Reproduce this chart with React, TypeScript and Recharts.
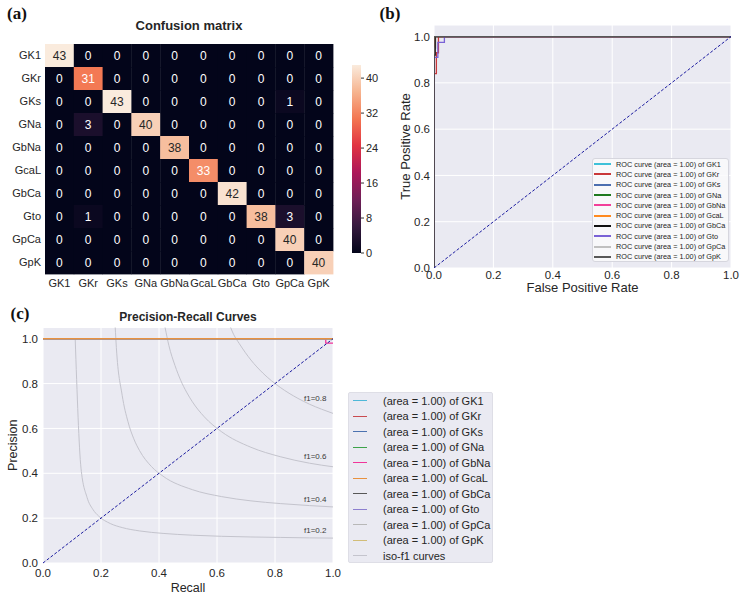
import React from 'react';
import {
  ScatterChart, Scatter, BarChart, Bar, LineChart, Line, XAxis, YAxis,
  CartesianGrid, Legend, ReferenceDot,
} from 'recharts';

const classes = ['GK1', 'GKr', 'GKs', 'GNa', 'GbNa', 'GcaL', 'GbCa', 'Gto', 'GpCa', 'GpK'];

// rows = true class, columns = predicted class
const confusion = [
  [43, 0, 0, 0, 0, 0, 0, 0, 0, 0],
  [0, 31, 0, 0, 0, 0, 0, 0, 0, 0],
  [0, 0, 43, 0, 0, 0, 0, 0, 1, 0],
  [0, 3, 0, 40, 0, 0, 0, 0, 0, 0],
  [0, 0, 0, 0, 38, 0, 0, 0, 0, 0],
  [0, 0, 0, 0, 0, 33, 0, 0, 0, 0],
  [0, 0, 0, 0, 0, 0, 42, 0, 0, 0],
  [0, 1, 0, 0, 0, 0, 0, 38, 3, 0],
  [0, 0, 0, 0, 0, 0, 0, 0, 40, 0],
  [0, 0, 0, 0, 0, 0, 0, 0, 0, 40],
];
const colorbarTicks = [0, 8, 16, 24, 32, 40];
const colorbarMax = 43;

const rateTicks = [0, 0.2, 0.4, 0.6, 0.8, 1.0];
const areas = [1.0, 1.0, 1.0, 1.0, 1.0, 1.0, 1.0, 1.0, 1.0, 1.0];

// ROC curves as [fpr, tpr]
const rocGK1 = [[0, 0], [0, 1], [1, 1]];
const rocGKr = [[0, 0], [0, 0.84], [0.008, 0.84], [0.008, 0.93], [0.015, 0.93], [0.015, 1], [1, 1]];
const rocGKs = [[0, 0], [0, 1], [1, 1]];
const rocGNa = [[0, 0], [0, 1], [1, 1]];
const rocGbNa = [[0, 0], [0, 1], [1, 1]];
const rocGcaL = [[0, 0], [0, 1], [1, 1]];
const rocGbCa = [[0, 0], [0, 0.92], [0.004, 0.92], [0.004, 1], [1, 1]];
const rocGto = [[0, 0], [0, 0.91], [0.013, 0.91], [0.013, 0.975], [0.035, 0.975], [0.035, 1], [1, 1]];
const rocGpCa = [[0, 0], [0, 0.95], [0.006, 0.95], [0.006, 1], [1, 1]];
const rocGpK = [[0, 0], [0, 1], [1, 1]];
const chanceLine = [[0, 0], [1, 1]];

// precision-recall curves as [recall, precision]
const prGK1 = [[0, 1], [1, 1]];
const prGKr = [[0, 1], [1, 1]];
const prGKs = [[0, 1], [1, 1]];
const prGNa = [[0, 1], [1, 1]];
const prGbNa = [[0, 1], [0.975, 1], [0.975, 0.98], [1, 0.98]];
const prGcaL = [[0, 1], [1, 1]];
const prGbCa = [[0, 1], [1, 1]];
const prGto = [[0, 1], [1, 1]];
const prGpCa = [[0, 1], [1, 1]];
const prGpK = [[0, 1], [1, 1]];

// iso-f1 curves
const isoF02 = [[0.111, 1.0], [0.131, 0.423], [0.152, 0.292], [0.172, 0.239], [0.192, 0.209], [0.232, 0.176],
  [0.273, 0.158], [0.333, 0.143], [0.414, 0.132], [0.515, 0.124], [0.616, 0.119], [0.717, 0.116],
  [0.818, 0.114], [0.919, 0.112], [1.0, 0.111]];
const isoF04 = [[0.249, 1.05], [0.253, 0.96], [0.273, 0.748], [0.293, 0.63], [0.313, 0.554], [0.333, 0.501],
  [0.374, 0.43], [0.414, 0.387], [0.515, 0.327], [0.616, 0.296], [0.717, 0.277], [0.818, 0.265],
  [0.919, 0.256], [1.0, 0.25]];
const isoF06 = [[0.421, 1.05], [0.434, 0.97], [0.455, 0.881], [0.475, 0.814], [0.495, 0.762], [0.515, 0.719],
  [0.556, 0.652], [0.616, 0.585], [0.717, 0.516], [0.818, 0.474], [0.919, 0.445], [1.0, 0.429]];
const isoF08 = [[0.647, 1.05], [0.657, 1.02], [0.677, 0.978], [0.717, 0.905], [0.758, 0.847], [0.818, 0.783],
  [0.879, 0.734], [0.919, 0.708], [0.96, 0.686], [1.0, 0.667]];
const isoLabels = ['f1=0.2', 'f1=0.4', 'f1=0.6', 'f1=0.8'];
const isoLabelX = [0.9, 0.9, 0.9, 0.9];
const isoLabelY = [0.147, 0.285, 0.478, 0.735];

const rocCurves = [rocGK1, rocGKr, rocGKs, rocGNa, rocGbNa, rocGcaL, rocGbCa, rocGto, rocGpCa, rocGpK];
const prCurves = [prGK1, prGKr, prGKs, prGNa, prGbNa, prGcaL, prGbCa, prGto, prGpCa, prGpK];
const isoCurves = [isoF02, isoF04, isoF06, isoF08];

const rocColors = ['#3fc1d9', '#c9383a', '#4c6fb0', '#1f7a1f', '#f2409a', '#ff8a1f', '#111111', '#7a62d6', '#c0c0c0', '#585858'];
const prColors = ['#4fb8d8', '#c94b50', '#4c72b0', '#3da34a', '#f0359a', '#e8913f', '#575757', '#8c7fcf', '#b8b8b8', '#d2bd78'];
const isoColor = '#c4c4cd';
const ISO_NAME = 'iso-f1 curves';

const FONT = '"Liberation Sans", Arial, sans-serif';
const SERIF = '"Liberation Serif", "Times New Roman", serif';
const INK = '#262626';
const PANEL_BG = '#eaeaf2';

const rocketStops: [number, string][] = [
  [0, '#03051a'], [0.143, '#35193e'], [0.286, '#701f57'], [0.429, '#ad1759'],
  [0.571, '#e13342'], [0.714, '#f37651'], [0.857, '#f6b48f'], [1, '#faebdd'],
];

function hexRgb(h: string) {
  return [1, 3, 5].map((i) => parseInt(h.slice(i, i + 2), 16));
}

function rocket(t: number) {
  const v = Math.max(0, Math.min(1, t));
  for (let i = 1; i < rocketStops.length; i++) {
    const [p1, c1] = rocketStops[i];
    const [p0, c0] = rocketStops[i - 1];
    if (v <= p1) {
      const f = (v - p0) / (p1 - p0);
      const a = hexRgb(c0);
      const b = hexRgb(c1);
      return a.map((x, k) => Math.round(x + (b[k] - x) * f));
    }
  }
  return hexRgb(rocketStops[rocketStops.length - 1][1]);
}

function luminance([r, g, b]: number[]) {
  const lin = (c: number) => {
    const s = c / 255;
    return s <= 0.03928 ? s / 12.92 : Math.pow((s + 0.055) / 1.055, 2.4);
  };
  return 0.2126 * lin(r) + 0.7152 * lin(g) + 0.0722 * lin(b);
}

const toPoints = (pts: number[][]) => pts.map(([x, y]) => ({ x, y }));

// heatmap plot box (matches chart margins below)
const HEAT_W = 288;
const HEAT_H = 230;
const cellW = HEAT_W / classes.length;
const cellH = HEAT_H / classes.length;

const cells = confusion.flatMap((row, r) => row.map((value, c) => ({ col: c + 0.5, row: r + 0.5, value })));
const cellTicks = classes.map((_, i) => i + 0.5);

function HeatCell(props: any) {
  const { cx, cy, payload } = props;
  const rgb = rocket(payload.value / colorbarMax);
  return (
    <g>
      <rect x={cx - cellW / 2} y={cy - cellH / 2} width={cellW + 0.4} height={cellH + 0.4} fill={`rgb(${rgb.join(',')})`} />
      <text x={cx} y={cy} dy="0.36em" textAnchor="middle" fontSize={12} fontFamily={FONT}
        fill={luminance(rgb) > 0.408 ? INK : '#ffffff'}>
        {payload.value}
      </text>
    </g>
  );
}

const classOrder = (name: string) => {
  const i = classes.findIndex((c) => name.endsWith(`of ${c}`));
  return i < 0 ? 99 : i;
};

// keep only named series, one row per name, in class order
function legendItems(payload: any[] | undefined) {
  const seen = new Set<string>();
  return (payload ?? [])
    .filter((it) => it.type !== 'none' && typeof it.value === 'string' && it.value !== 'y')
    .filter((it) => (seen.has(it.value) ? false : (seen.add(it.value), true)))
    .sort((a, b) => classOrder(a.value) - classOrder(b.value));
}

function RocLegend({ payload }: any) {
  return (
    <div style={{
      width: 137, height: 104, boxSizing: 'border-box', background: 'rgba(250,250,252,0.85)',
      border: '1px solid #d6d6de', borderRadius: 3,
    }}>
      {legendItems(payload).map((it: any) => (
        <div key={it.value} style={{ display: 'flex', alignItems: 'center', height: 10.3 }}>
          <span style={{ display: 'inline-block', width: 17, borderTop: `2px solid ${it.color}`, marginLeft: 1, marginRight: 5 }} />
          <span style={{ fontSize: 7.3, color: INK, whiteSpace: 'nowrap', fontFamily: FONT }}>{it.value}</span>
        </div>
      ))}
    </div>
  );
}

function PrLegend({ payload }: any) {
  return (
    <div style={{
      width: 145, height: 171, boxSizing: 'border-box', background: PANEL_BG,
      border: '1px solid #dedee6', borderRadius: 2,
    }}>
      {legendItems(payload).map((it: any) => (
        <div key={it.value} style={{ display: 'flex', alignItems: 'center', height: 15.5 }}>
          <span style={{ display: 'inline-block', width: 14, borderTop: `1.5px solid ${it.color}`, marginLeft: 4, marginRight: 16 }} />
          <span style={{ fontSize: 11, color: INK, whiteSpace: 'nowrap', fontFamily: FONT }}>{it.value}</span>
        </div>
      ))}
    </div>
  );
}

const tickStyle = { fontSize: 11.5, fill: INK, fontFamily: FONT };
const labelStyle = { fontSize: 13, fill: INK, fontFamily: FONT };

function absText(left: number, top: number, width: number, text: string, style: React.CSSProperties) {
  return (
    <div style={{ position: 'absolute', left, top, width, textAlign: 'center', whiteSpace: 'nowrap', ...style }}>{text}</div>
  );
}

export default function App() {
  // draw the straight curves first so the stepped ones stay visible
  const rocDrawOrder = [0, 2, 3, 4, 5, 8, 1, 7, 6, 9];
  const prDrawOrder = [0, 1, 2, 3, 4, 6, 7, 8, 9, 5];

  return (
    <div style={{ position: 'absolute', left: 0, top: 0, width: 749, height: 597, background: '#fff', fontFamily: FONT }}>
      {absText(0, 4, 34, '(a)', { fontFamily: SERIF, fontWeight: 'bold', fontSize: 17, color: '#111', lineHeight: '20px' })}
      {absText(89, 17, 200, 'Confusion matrix', { fontWeight: 'bold', fontSize: 13, color: INK, lineHeight: '18px' })}

      <div style={{ position: 'absolute', left: 0, top: 0 }}>
        <ScatterChart width={340} height={300} margin={{ top: 44, right: 7, bottom: 0, left: 0 }}>
          <XAxis type="number" dataKey="col" domain={[0, 10]} ticks={cellTicks} interval={0}
            tickFormatter={(v) => classes[Math.floor(v)]} tick={{ ...tickStyle, fontSize: 11 }}
            tickLine={false} axisLine={false} tickSize={3} tickMargin={2} height={26} />
          <YAxis type="number" dataKey="row" domain={[0, 10]} reversed ticks={cellTicks} interval={0}
            tickFormatter={(v) => classes[Math.floor(v)]} tick={{ ...tickStyle, fontSize: 11 }}
            tickLine={false} axisLine={false} tickSize={2} tickMargin={2} width={45} />
          <Scatter data={cells} shape={<HeatCell />} isAnimationActive={false} />
        </ScatterChart>
      </div>

      <div style={{ position: 'absolute', left: 352, top: 59 }}>
        <BarChart width={40} height={200} data={[{ name: 'scale', v: colorbarMax }]}
          margin={{ top: 6, right: 0, bottom: 6, left: 0 }} barCategoryGap={0}>
          <defs>
            <linearGradient id="rocketGrad" x1="0" y1="1" x2="0" y2="0">
              {rocketStops.map(([p, c]) => <stop key={p} offset={p} stopColor={c} />)}
            </linearGradient>
          </defs>
          <XAxis dataKey="name" hide />
          <YAxis orientation="right" type="number" domain={[0, colorbarMax]} ticks={colorbarTicks}
            tick={{ ...tickStyle, fontSize: 11 }} axisLine={false} tickLine={{ stroke: '#333' }}
            tickSize={3} tickMargin={2} width={31} />
          <Bar dataKey="v" fill="url(#rocketGrad)" isAnimationActive={false} />
        </BarChart>
      </div>

      {absText(370, 4, 40, '(b)', { fontFamily: SERIF, fontWeight: 'bold', fontSize: 17, color: '#111', lineHeight: '20px' })}
      <div style={{ position: 'absolute', left: 375, top: 0 }}>
        <LineChart width={374} height={300} margin={{ top: 25, right: 18, bottom: 0, left: 0 }}>
          <CartesianGrid fill={PANEL_BG} stroke="#ffffff" strokeWidth={1} />
          <XAxis type="number" dataKey="x" domain={[0, 1]} ticks={rateTicks} allowDataOverflow
            tickFormatter={(v) => v.toFixed(1)} tick={tickStyle} tickLine={false} axisLine={false}
            tickSize={1} tickMargin={2} height={32}
            label={{ value: 'False Positive Rate', position: 'insideBottom', offset: 8, style: labelStyle }} />
          <YAxis type="number" domain={[0, 1.05]} ticks={rateTicks} allowDataOverflow
            tickFormatter={(v) => v.toFixed(1)} tick={tickStyle} tickLine={false} axisLine={false}
            tickSize={2} tickMargin={2} width={59}
            label={{ value: 'True Positive Rate', angle: -90, position: 'insideLeft', offset: 30, style: { ...labelStyle, textAnchor: 'middle' } }} />
          {rocDrawOrder.map((i) => (
            <Line key={classes[i]} data={toPoints(rocCurves[i])} dataKey="y" type="linear"
              name={`ROC curve (area = ${areas[i].toFixed(2)}) of ${classes[i]}`}
              stroke={rocColors[i]} strokeWidth={1.3} dot={false} isAnimationActive={false} />
          ))}
          <Line data={toPoints(chanceLine)} dataKey="y" type="linear" stroke="#1c1ca0" strokeWidth={1}
            strokeDasharray="3 1.8" dot={false} legendType="none" isAnimationActive={false} />
          <Legend layout="horizontal" verticalAlign="middle" align="center" content={<RocLegend />}
            wrapperStyle={{ left: 217, top: 158, width: 137, height: 104, right: 'auto', bottom: 'auto' }} />
        </LineChart>
      </div>

      {absText(0, 304, 40, '(c)', { fontFamily: SERIF, fontWeight: 'bold', fontSize: 17, color: '#111', lineHeight: '20px' })}
      {absText(88, 309, 200, 'Precision-Recall Curves', { fontWeight: 'bold', fontSize: 12, color: INK, lineHeight: '17px' })}
      <div style={{ position: 'absolute', left: 0, top: 300 }}>
        <LineChart width={500} height={297} margin={{ top: 27.5, right: 167, bottom: 0, left: 0 }}>
          <CartesianGrid fill={PANEL_BG} stroke="#ffffff" strokeWidth={1} />
          <XAxis type="number" dataKey="x" domain={[0, 1]} ticks={rateTicks}
            tickFormatter={(v) => v.toFixed(1)} tick={tickStyle} tickLine={false} axisLine={false}
            tickSize={4} tickMargin={2} height={34}
            label={{ value: 'Recall', position: 'insideBottom', offset: 5.5, style: { ...labelStyle, fontSize: 12.5 } }} />
          <YAxis type="number" domain={[0, 1.05]} ticks={rateTicks}
            tickFormatter={(v) => v.toFixed(1)} tick={tickStyle} tickLine={false} axisLine={false}
            tickSize={3} tickMargin={2} width={43}
            label={{ value: 'Precision', angle: -90, position: 'insideLeft', offset: 13, style: { ...labelStyle, fontSize: 12.5, textAnchor: 'middle' } }} />
          {isoCurves.map((pts, k) => (
            <Line key={isoLabels[k]} data={toPoints(pts)} dataKey="y" type="monotoneX"
              name={ISO_NAME} legendType={k === 0 ? 'line' : 'none'}
              stroke={isoColor} strokeWidth={1} dot={false} isAnimationActive={false} />
          ))}
          {isoLabels.map((t, k) => (
            <ReferenceDot key={t} x={isoLabelX[k]} y={isoLabelY[k]} r={0} fill="none" stroke="none"
              label={{ value: t, position: 'right', offset: 0, fontSize: 8, fill: '#3a3a3a', fontFamily: FONT }} />
          ))}
          {prDrawOrder.map((i) => (
            <Line key={classes[i]} data={toPoints(prCurves[i])} dataKey="y" type="linear"
              name={`(area = ${areas[i].toFixed(2)}) of ${classes[i]}`}
              stroke={prColors[i]} strokeWidth={1.3} dot={false} isAnimationActive={false} />
          ))}
          <Line data={toPoints(chanceLine)} dataKey="y" type="linear" stroke="#1c1ca0" strokeWidth={1}
            strokeDasharray="3 1.8" dot={false} legendType="none" isAnimationActive={false} />
          <Legend layout="horizontal" verticalAlign="middle" align="center" content={<PrLegend />}
            wrapperStyle={{ left: 348, top: 92, width: 145, height: 171, right: 'auto', bottom: 'auto' }} />
        </LineChart>
      </div>
    </div>
  );
}
